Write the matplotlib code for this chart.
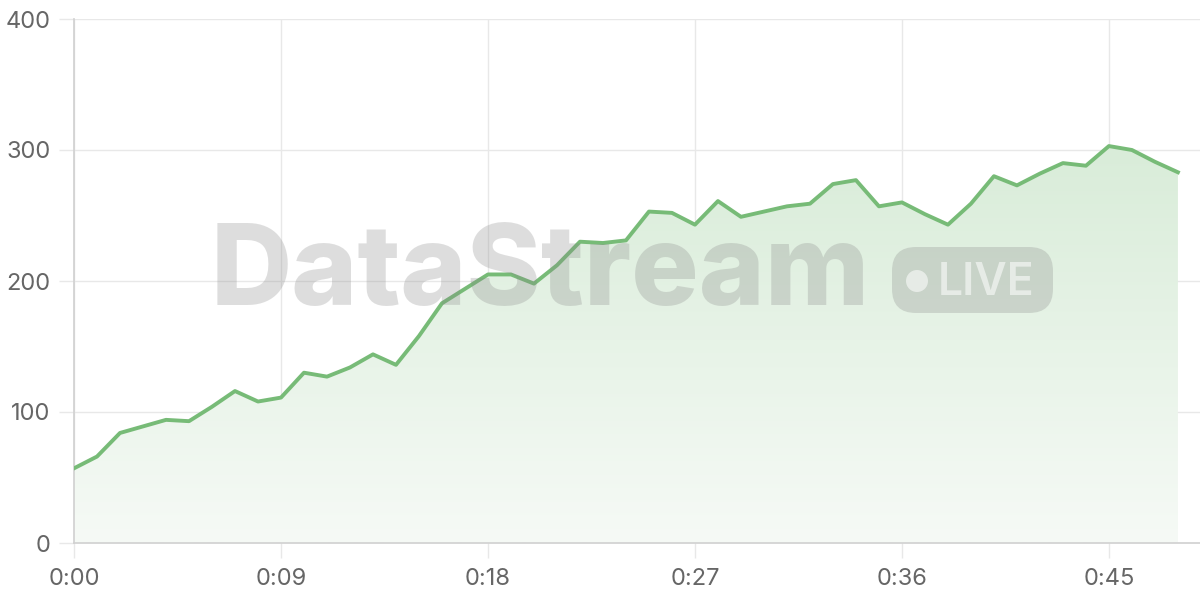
import numpy as np
import matplotlib.pyplot as plt
from matplotlib.patches import FancyBboxPatch, Circle
from matplotlib.colors import LinearSegmentedColormap
from matplotlib.transforms import Affine2D

plt.rcParams['font.family'] = ['Inter', 'DejaVu Sans']

# minute index and values
minutes = list(range(49))
values = [57, 66, 84, 89, 94, 93, 104, 116, 108, 111,
          130, 127, 134, 144, 136, 158, 183, 194, 205, 205,
          198, 212, 230, 229, 231, 253, 252, 243, 261, 249,
          253, 257, 259, 274, 277, 257, 260, 251, 243, 259,
          280, 273, 282, 290, 288, 303, 300, 291, 283]
tick_pos = [0, 9, 18, 27, 36, 45]
tick_labels = ['0:00', '0:09', '0:18', '0:27', '0:36', '0:45']
y_ticks = [0, 100, 200, 300, 400]

LINE = '#77bb77'
GRID = '#e8e8e8'
TXT = '#666666'

fig = plt.figure(figsize=(12, 6), dpi=100)
ax = fig.add_axes([74/1200, 57/600, 1 - 74/1200, (543-19)/600])
ax.set_xlim(0, 48.96)
ax.set_ylim(0, 400)

x = np.array(minutes, dtype=float)
y = np.array(values, dtype=float)

# gradient fill under the line
grad = np.linspace(0, 1, 256).reshape(-1, 1)
cmap = LinearSegmentedColormap.from_list('g', ['#f6faf6', '#d8ecd8'])
im = ax.imshow(grad, extent=[0, 48, 0, 310], origin='lower', aspect='auto',
               cmap=cmap, zorder=1)
poly = ax.fill_between(x, y, 0, color='none', lw=0)
im.set_clip_path(poly.get_paths()[0], transform=ax.transData)

# grid
ax.set_axisbelow(True)
ax.grid(True, color=GRID, lw=1)
ax.set_xticks(tick_pos, tick_labels)
ax.set_yticks(y_ticks)
ax.tick_params(axis='both', length=11, width=1, color=GRID, labelcolor=TXT,
               labelsize=17)
ax.tick_params(axis='x', pad=7)
ax.tick_params(axis='y', pad=6)
for s in ['top', 'right']:
    ax.spines[s].set_visible(False)
for s in ['left', 'bottom']:
    ax.spines[s].set_color('#d0d0d0')
    ax.spines[s].set_linewidth(1.2)

# watermark (pixel coordinates, y measured from the top)
px = Affine2D().scale(1/1200, -1/600).translate(0, 1) + fig.transFigure
fig.text(540, 305, 'DataStream', transform=px, ha='center', va='baseline',
         fontsize=81, fontweight='heavy', color='#888888', alpha=0.28, zorder=3)
badge = FancyBboxPatch((892, 247), 161, 66, boxstyle='round,pad=0,rounding_size=24',
                       transform=px, fc='#888888', ec='none', alpha=0.28, zorder=3)
fig.patches.append(badge)
fig.patches.append(Circle((917, 281), 11, transform=px, fc='white', ec='none',
                          alpha=0.55, zorder=4))
fig.text(986, 295, 'LIVE', transform=px, ha='center', va='baseline', fontsize=32,
         fontweight='semibold', color='white', alpha=0.55, zorder=4)

ax.plot(x, y, color=LINE, lw=2.8, zorder=5, solid_joinstyle='round')

fig.savefig('out.png', dpi=100)
